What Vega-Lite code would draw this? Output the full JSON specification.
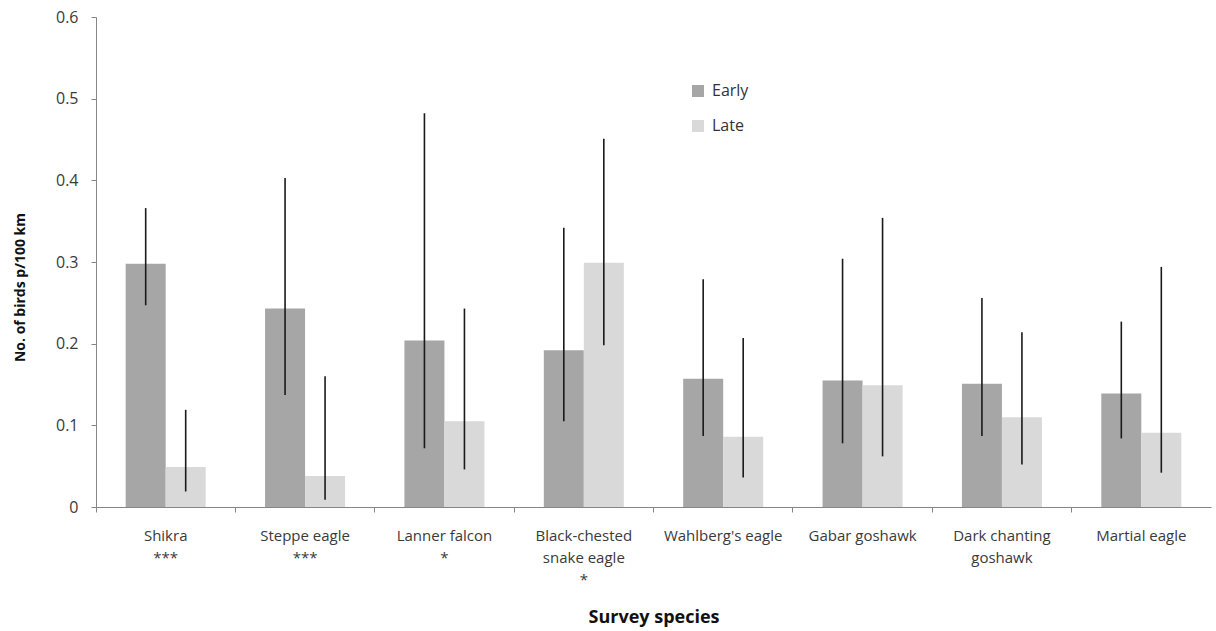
{
  "$schema": "https://vega.github.io/schema/vega-lite/v6.json",
  "autosize": "none",
  "padding": {"left": 96, "top": 17, "right": 5, "bottom": 124},
  "width": 1115,
  "height": 490,
  "background": "white",
  "config": {
    "view": {"stroke": null},
    "font": "Open Sans",
    "axis": {"labelFont": "Open Sans", "titleFont": "Open Sans", "labelColor": "#3a3a3a", "titleColor": "#111111"}
  },
  "data": {
    "values": [
      {"species": "Shikra", "period": "Early", "value": 0.298, "lo": 0.247, "hi": 0.366},
      {"species": "Shikra", "period": "Late", "value": 0.049, "lo": 0.019, "hi": 0.119},
      {"species": "Steppe eagle", "period": "Early", "value": 0.243, "lo": 0.137, "hi": 0.403},
      {"species": "Steppe eagle", "period": "Late", "value": 0.038, "lo": 0.009, "hi": 0.160},
      {"species": "Lanner falcon", "period": "Early", "value": 0.204, "lo": 0.072, "hi": 0.482},
      {"species": "Lanner falcon", "period": "Late", "value": 0.105, "lo": 0.046, "hi": 0.243},
      {"species": "Black-chested snake eagle", "period": "Early", "value": 0.192, "lo": 0.105, "hi": 0.342},
      {"species": "Black-chested snake eagle", "period": "Late", "value": 0.299, "lo": 0.198, "hi": 0.451},
      {"species": "Wahlberg's eagle", "period": "Early", "value": 0.157, "lo": 0.087, "hi": 0.279},
      {"species": "Wahlberg's eagle", "period": "Late", "value": 0.086, "lo": 0.036, "hi": 0.207},
      {"species": "Gabar goshawk", "period": "Early", "value": 0.155, "lo": 0.078, "hi": 0.304},
      {"species": "Gabar goshawk", "period": "Late", "value": 0.149, "lo": 0.062, "hi": 0.354},
      {"species": "Dark chanting goshawk", "period": "Early", "value": 0.151, "lo": 0.087, "hi": 0.256},
      {"species": "Dark chanting goshawk", "period": "Late", "value": 0.110, "lo": 0.052, "hi": 0.214},
      {"species": "Martial eagle", "period": "Early", "value": 0.139, "lo": 0.084, "hi": 0.227},
      {"species": "Martial eagle", "period": "Late", "value": 0.091, "lo": 0.042, "hi": 0.294}
    ]
  },
  "encoding": {
    "x": {
      "field": "species",
      "type": "nominal",
      "sort": null,
      "scale": {"paddingInner": 0, "paddingOuter": 0},
      "axis": {
        "title": "Survey species",
        "titleFontSize": 18,
        "titleFontWeight": "bold",
        "titleY": 110,
        "titleBaseline": "middle",
        "labelAngle": 0,
        "labelFontSize": 15,
        "labelBaseline": "top",
        "labelLineHeight": 22,
        "labelPadding": 16,
        "labelExpr": "datum.value == 'Shikra' ? ['Shikra', '***'] : datum.value == 'Steppe eagle' ? ['Steppe eagle', '***'] : datum.value == 'Lanner falcon' ? ['Lanner falcon', '*'] : datum.value == 'Black-chested snake eagle' ? ['Black-chested', 'snake eagle', '*'] : datum.value == 'Dark chanting goshawk' ? ['Dark chanting', 'goshawk'] : datum.value",
        "bandPosition": 0,
        "tickSize": 5,
        "tickColor": "#868686",
        "domainColor": "#868686",
        "labelLimit": 0
      }
    },
    "xOffset": {
      "field": "period",
      "type": "nominal",
      "sort": ["Early", "Late"],
      "scale": {"paddingInner": 0, "paddingOuter": 0.742}
    }
  },
  "layer": [
    {
      "mark": {"type": "bar"},
      "encoding": {
        "y": {
          "field": "value",
          "type": "quantitative",
          "scale": {"domain": [0, 0.6], "nice": false},
          "axis": {
            "title": "No. of birds p/100  km",
            "titleFontSize": 14,
            "titleFontWeight": "bold",
            "titleAngle": -90,
            "titleX": -76,
            "titleY": 270,
            "titleAlign": "center",
            "titleBaseline": "middle",
            "values": [0, 0.1, 0.2, 0.3, 0.4, 0.5, 0.6],
            "labelExpr": "datum.value == 0 ? '0' : format(datum.value, '.1f')",
            "labelFontSize": 16,
            "labelPadding": 13,
            "tickSize": 5,
            "tickColor": "#868686",
            "domainColor": "#868686",
            "grid": false
          }
        },
        "color": {
          "field": "period",
          "type": "nominal",
          "sort": ["Early", "Late"],
          "scale": {"domain": ["Early", "Late"], "range": ["#a6a6a6", "#d9d9d9"]},
          "legend": {
            "title": null,
            "orient": "none",
            "legendX": 594,
            "legendY": 66,
            "symbolType": "square",
            "symbolSize": 144,
            "symbolStrokeWidth": 0,
            "labelFontSize": 16,
            "labelColor": "#333333",
            "labelOffset": 6,
            "rowPadding": 19,
            "labelFont": "Open Sans"
          }
        }
      }
    },
    {
      "mark": {"type": "rule", "color": "#1a1a1a", "strokeWidth": 1.6},
      "encoding": {
        "y": {"field": "lo", "type": "quantitative"},
        "y2": {"field": "hi"}
      }
    }
  ]
}
